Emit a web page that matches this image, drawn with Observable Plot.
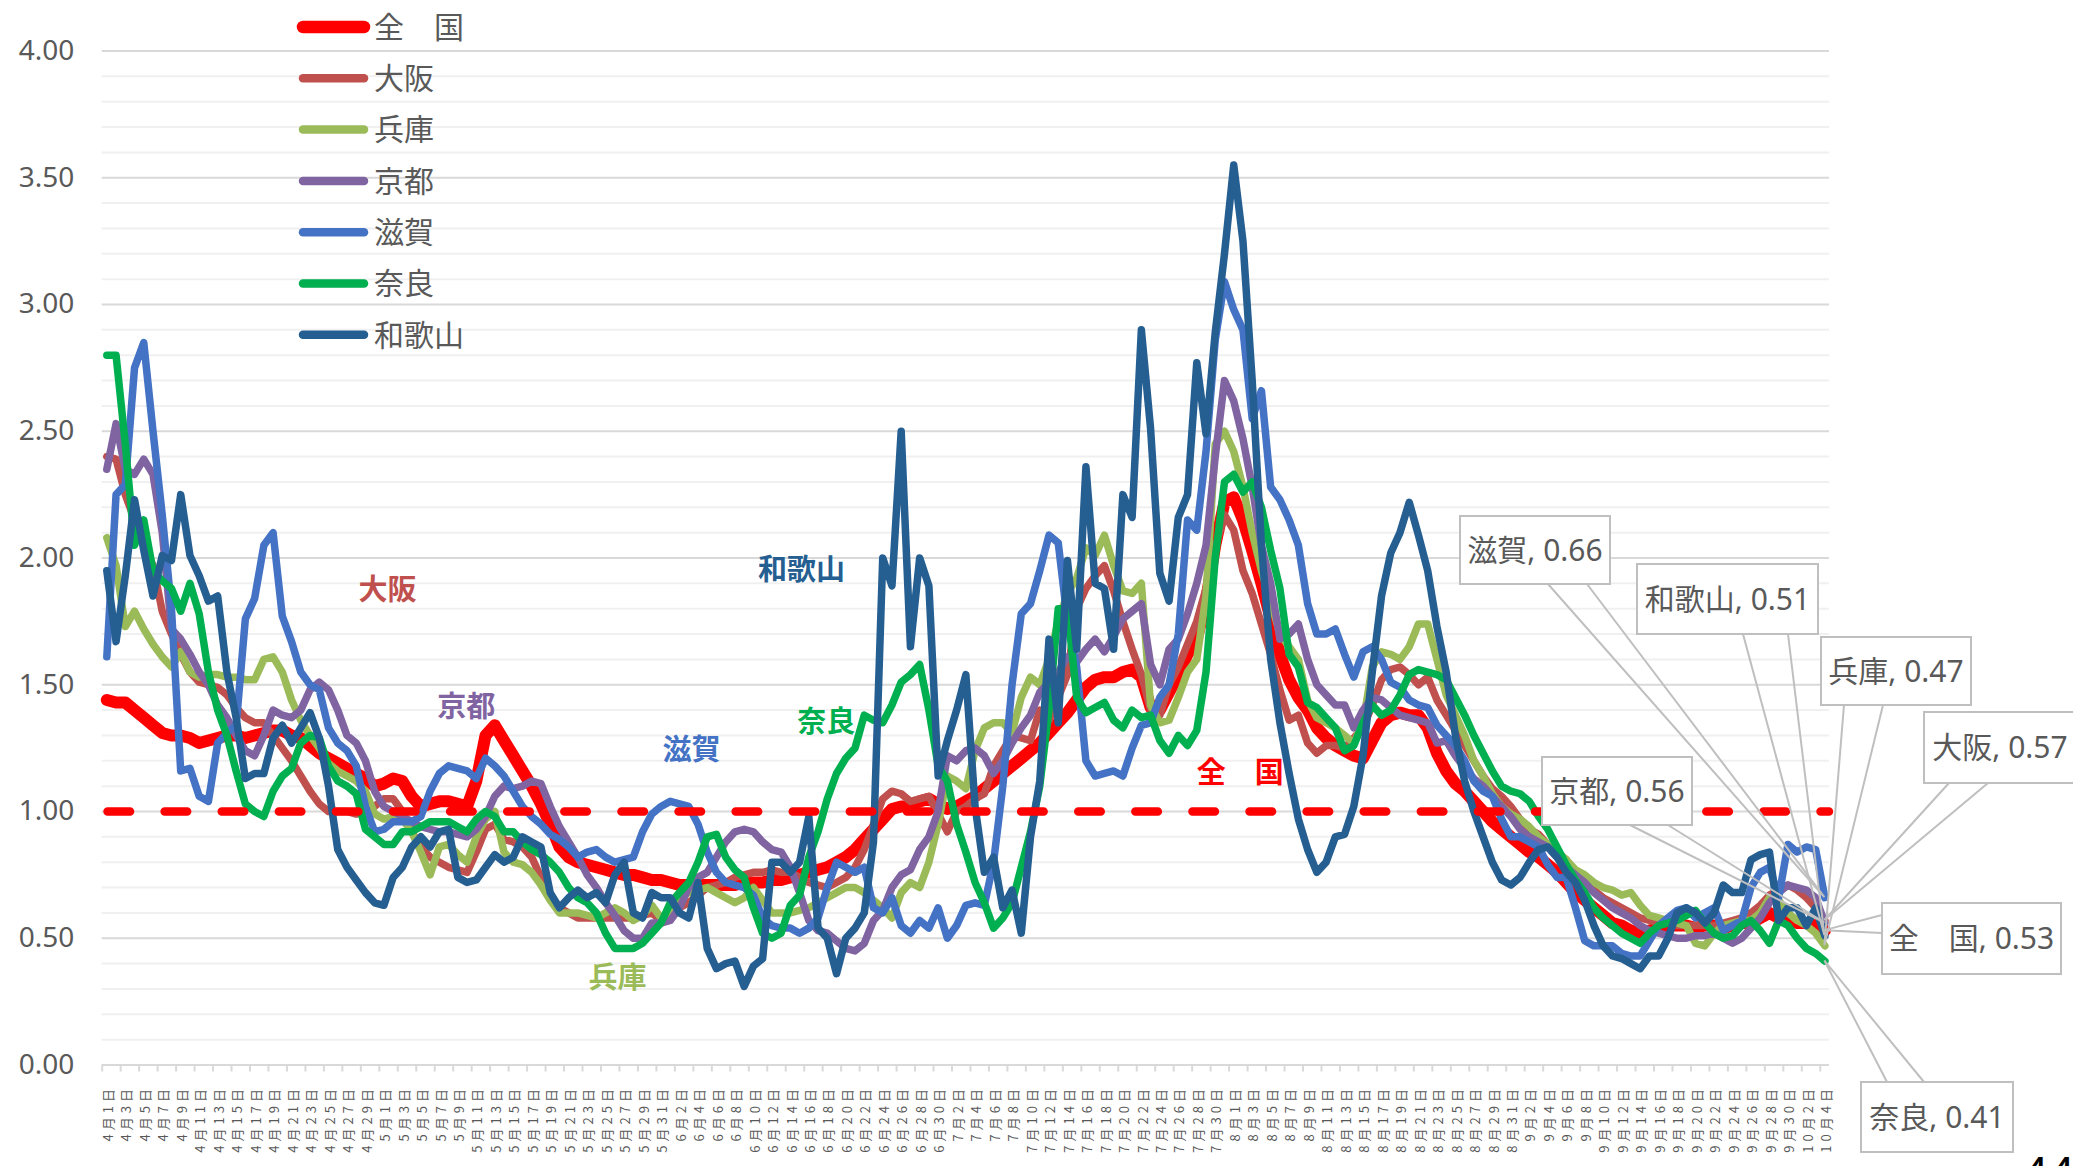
<!DOCTYPE html>
<html><head><meta charset="utf-8">
<script src="https://cdn.jsdelivr.net/npm/d3@7"></script>
<script src="https://cdn.jsdelivr.net/npm/@observablehq/plot@0.6"></script>
<style>
html,body{margin:0;padding:0;background:#fff;}
#chart{position:relative;width:2073px;height:1166px;overflow:hidden;}
</style></head><body><div id="chart"></div>
<script>
// ---- categories (daily, 4/1 .. 10/4) ----
const startDate = new Date(2021, 3, 1);
const dayCount = 187;
const dayLabels = d3.range(dayCount).map(i => {
  const t = d3.timeDay.offset(startDate, i);
  return `${t.getMonth() + 1}月${t.getDate()}日`;
});
const labelDays = d3.range(0, dayCount, 2);
const yTicks = [0, 0.5, 1, 1.5, 2, 2.5, 3, 3.5, 4];
const yMinorTicks = [0.1,0.2,0.3,0.4,0.6,0.7,0.8,0.9,1.1,1.2,1.3,1.4,1.6,1.7,1.8,1.9,2.1,2.2,2.3,2.4,2.6,2.7,2.8,2.9,3.1,3.2,3.3,3.4,3.6,3.7,3.8,3.9];
const refValue = 1.0;
const pageNumber = "44";

// ---- series values ----
const zenkoku = [1.44,1.43,1.43,1.40,1.37,1.34,1.31,1.30,1.30,1.29,
 1.27,1.28,1.29,1.30,1.30,1.29,1.30,1.31,1.32,1.32,
 1.30,1.29,1.26,1.23,1.21,1.19,1.17,1.15,1.13,1.10,
 1.11,1.13,1.12,1.06,1.02,1.03,1.04,1.04,1.03,1.02,
 1.12,1.30,1.34,1.28,1.22,1.16,1.10,1.03,0.95,0.86,
 0.82,0.80,0.79,0.78,0.77,0.76,0.75,0.75,0.74,0.73,
 0.73,0.72,0.71,0.71,0.71,0.71,0.71,0.71,0.71,0.72,
 0.72,0.72,0.73,0.73,0.74,0.75,0.76,0.77,0.78,0.80,
 0.82,0.85,0.89,0.93,0.97,1.01,1.02,1.02,1.04,1.05,
 1.03,1.01,1.02,1.04,1.06,1.09,1.12,1.15,1.18,1.21,
 1.24,1.27,1.31,1.35,1.39,1.44,1.49,1.52,1.53,1.53,
 1.55,1.56,1.53,1.41,1.40,1.47,1.54,1.62,1.68,1.83,
 2.05,2.22,2.24,2.15,2.03,1.90,1.76,1.62,1.52,1.45,
 1.40,1.33,1.29,1.26,1.24,1.22,1.21,1.28,1.35,1.38,
 1.39,1.38,1.38,1.33,1.23,1.16,1.11,1.08,1.04,1.00,
 0.96,0.93,0.90,0.87,0.84,0.82,0.79,0.76,0.72,0.68,
 0.65,0.62,0.59,0.56,0.55,0.53,0.52,0.53,0.54,0.55,
 0.55,0.55,0.54,0.55,0.55,0.54,0.55,0.56,0.56,0.58,
 0.60,0.58,0.57,0.56,0.56,0.55,0.53];
const osaka = [2.40,2.39,2.25,2.15,2.05,1.97,1.79,1.70,1.62,1.55,
 1.51,1.50,1.49,1.46,1.41,1.37,1.35,1.35,1.30,1.25,
 1.20,1.14,1.08,1.03,1.00,1.00,1.00,0.99,1.00,1.02,
 1.05,1.05,1.00,0.92,0.86,0.82,0.80,0.78,0.77,0.76,
 0.84,0.93,0.95,0.89,0.88,0.86,0.82,0.74,0.66,0.62,
 0.60,0.58,0.58,0.58,0.58,0.58,0.58,0.58,0.59,0.60,
 0.57,0.58,0.62,0.64,0.67,0.70,0.71,0.72,0.74,0.75,
 0.76,0.76,0.77,0.76,0.76,0.74,0.72,0.71,0.70,0.72,
 0.74,0.78,0.85,0.95,1.05,1.08,1.07,1.04,1.05,1.06,
 0.99,0.92,1.00,1.02,1.05,1.07,1.18,1.24,1.30,1.29,
 1.28,1.40,1.36,1.45,1.54,1.80,1.88,1.93,1.97,1.87,
 1.75,1.64,1.54,1.40,1.38,1.50,1.57,1.66,1.75,1.88,
 2.04,2.17,2.11,1.95,1.86,1.74,1.62,1.48,1.36,1.38,
 1.27,1.23,1.26,1.26,1.25,1.29,1.33,1.42,1.52,1.56,
 1.57,1.54,1.50,1.53,1.44,1.38,1.32,1.26,1.20,1.14,
 1.09,1.06,1.02,0.97,0.93,0.91,0.87,0.84,0.81,0.76,
 0.72,0.69,0.66,0.64,0.62,0.60,0.58,0.57,0.56,0.56,
 0.55,0.55,0.55,0.55,0.55,0.56,0.57,0.58,0.60,0.63,
 0.67,0.69,0.71,0.69,0.66,0.62,0.57];
const hyogo = [2.08,1.97,1.73,1.79,1.72,1.66,1.61,1.57,1.63,1.55,
 1.53,1.54,1.54,1.53,1.53,1.52,1.52,1.60,1.61,1.55,
 1.44,1.36,1.30,1.25,1.19,1.16,1.14,1.12,1.08,0.99,
 0.97,0.98,0.97,0.92,0.84,0.75,0.86,0.87,0.83,0.80,
 0.90,0.97,1.00,0.84,0.80,0.79,0.76,0.71,0.65,0.60,
 0.60,0.60,0.59,0.58,0.60,0.62,0.60,0.57,0.59,0.63,
 0.58,0.60,0.66,0.68,0.69,0.70,0.68,0.66,0.64,0.66,
 0.70,0.65,0.60,0.60,0.60,0.61,0.62,0.64,0.66,0.68,
 0.70,0.70,0.68,0.65,0.62,0.58,0.68,0.72,0.70,0.80,
 0.95,1.14,1.12,1.09,1.24,1.33,1.35,1.35,1.31,1.45,
 1.53,1.50,1.60,1.75,1.86,1.92,2.04,2.01,2.09,1.97,
 1.87,1.86,1.90,1.42,1.35,1.36,1.45,1.55,1.60,1.85,
 2.45,2.50,2.42,2.28,2.10,1.95,1.83,1.70,1.65,1.60,
 1.44,1.37,1.35,1.33,1.30,1.27,1.35,1.57,1.63,1.62,
 1.60,1.65,1.74,1.74,1.60,1.46,1.38,1.30,1.20,1.14,
 1.07,1.02,0.99,0.97,0.94,0.90,0.87,0.84,0.81,0.77,
 0.75,0.72,0.70,0.69,0.67,0.68,0.63,0.59,0.58,0.57,
 0.56,0.55,0.48,0.47,0.52,0.55,0.56,0.57,0.57,0.60,
 0.66,0.65,0.60,0.57,0.55,0.52,0.47];
const kyoto = [2.35,2.53,2.35,2.33,2.39,2.33,2.10,1.72,1.68,1.62,
 1.55,1.50,1.42,1.37,1.30,1.24,1.22,1.30,1.40,1.38,
 1.37,1.40,1.48,1.51,1.48,1.40,1.30,1.27,1.20,1.08,
 1.02,1.00,0.98,0.96,0.94,0.93,0.92,0.92,0.91,0.90,
 0.93,0.98,1.06,1.10,1.09,1.10,1.12,1.11,1.02,0.94,
 0.88,0.82,0.75,0.70,0.64,0.59,0.53,0.50,0.50,0.56,
 0.56,0.57,0.62,0.70,0.74,0.76,0.82,0.88,0.92,0.93,
 0.92,0.88,0.85,0.84,0.78,0.68,0.57,0.53,0.52,0.49,
 0.46,0.45,0.48,0.57,0.61,0.70,0.75,0.77,0.85,0.90,
 1.00,1.22,1.20,1.24,1.25,1.22,1.15,1.20,1.27,1.33,
 1.38,1.47,1.51,1.55,1.61,1.59,1.64,1.68,1.63,1.69,
 1.76,1.79,1.82,1.58,1.50,1.64,1.68,1.78,1.90,2.05,
 2.40,2.70,2.62,2.47,2.28,2.05,1.90,1.68,1.70,1.74,
 1.60,1.50,1.46,1.42,1.42,1.33,1.40,1.45,1.44,1.41,
 1.38,1.37,1.36,1.35,1.27,1.28,1.22,1.17,1.13,1.10,
 1.06,1.02,0.98,0.93,0.90,0.88,0.86,0.82,0.78,0.75,
 0.72,0.68,0.65,0.62,0.60,0.58,0.55,0.53,0.52,0.51,
 0.50,0.50,0.51,0.51,0.52,0.50,0.48,0.50,0.54,0.58,
 0.64,0.68,0.71,0.70,0.69,0.66,0.56];
const shiga = [1.61,2.25,2.29,2.75,2.85,2.50,2.17,1.80,1.16,1.17,
 1.06,1.04,1.27,1.31,1.34,1.76,1.84,2.05,2.10,1.77,
 1.67,1.55,1.50,1.48,1.33,1.27,1.24,1.18,1.02,0.92,
 0.93,0.96,0.96,0.96,0.98,1.08,1.15,1.18,1.17,1.16,
 1.13,1.21,1.18,1.14,1.08,1.02,0.98,0.95,0.91,0.89,
 0.86,0.82,0.84,0.85,0.82,0.80,0.81,0.82,0.92,0.99,
 1.02,1.04,1.03,1.02,0.95,0.84,0.76,0.72,0.71,0.70,
 0.67,0.58,0.55,0.54,0.54,0.52,0.54,0.58,0.70,0.80,
 0.78,0.76,0.78,0.62,0.60,0.66,0.55,0.52,0.57,0.54,
 0.62,0.50,0.55,0.63,0.64,0.63,0.80,1.10,1.50,1.78,
 1.82,1.95,2.09,2.06,1.75,1.57,1.20,1.14,1.15,1.16,
 1.14,1.25,1.34,1.35,1.45,1.50,1.70,2.15,2.11,2.42,
 2.86,3.09,2.98,2.90,2.55,2.66,2.28,2.23,2.15,2.05,
 1.82,1.70,1.70,1.72,1.62,1.53,1.63,1.65,1.60,1.51,
 1.49,1.44,1.42,1.41,1.34,1.30,1.26,1.20,1.12,1.08,
 1.06,0.97,0.90,0.90,0.88,0.86,0.79,0.74,0.74,0.62,
 0.49,0.47,0.47,0.47,0.44,0.43,0.43,0.49,0.55,0.58,
 0.61,0.62,0.58,0.60,0.62,0.53,0.55,0.57,0.70,0.76,
 0.78,0.66,0.87,0.84,0.86,0.85,0.66];
const nara = [2.80,2.80,2.45,2.05,2.15,1.95,1.91,1.88,1.79,1.90,
 1.78,1.55,1.40,1.30,1.16,1.03,1.00,0.98,1.08,1.14,
 1.17,1.27,1.30,1.29,1.18,1.12,1.10,1.07,0.93,0.90,
 0.87,0.87,0.92,0.92,0.94,0.96,0.96,0.96,0.94,0.92,
 0.97,1.00,0.98,0.92,0.92,0.88,0.85,0.83,0.80,0.76,
 0.70,0.66,0.64,0.60,0.52,0.46,0.46,0.46,0.48,0.52,
 0.56,0.64,0.68,0.72,0.80,0.90,0.91,0.82,0.77,0.74,
 0.62,0.52,0.50,0.52,0.63,0.67,0.82,0.92,1.05,1.15,
 1.21,1.25,1.38,1.36,1.35,1.42,1.51,1.54,1.58,1.40,
 1.18,1.12,0.95,0.84,0.72,0.64,0.54,0.58,0.64,0.78,
 0.92,1.10,1.40,1.80,1.80,1.45,1.39,1.41,1.43,1.36,
 1.33,1.40,1.37,1.38,1.28,1.23,1.30,1.26,1.32,1.55,
 2.00,2.30,2.33,2.26,2.30,2.20,2.03,1.88,1.62,1.57,
 1.43,1.41,1.37,1.33,1.24,1.26,1.35,1.42,1.38,1.40,
 1.46,1.54,1.56,1.55,1.54,1.52,1.45,1.38,1.30,1.23,
 1.16,1.10,1.08,1.07,1.04,0.98,0.93,0.86,0.79,0.73,
 0.68,0.62,0.58,0.55,0.52,0.50,0.48,0.52,0.55,0.56,
 0.57,0.59,0.61,0.56,0.52,0.50,0.51,0.55,0.57,0.53,
 0.48,0.57,0.55,0.50,0.46,0.44,0.41];
const wakayama = [1.95,1.67,1.93,2.23,2.03,1.85,2.01,1.99,2.25,2.01,
 1.93,1.83,1.85,1.55,1.37,1.13,1.15,1.15,1.29,1.34,
 1.27,1.33,1.39,1.29,1.10,0.85,0.78,0.73,0.68,0.64,
 0.63,0.74,0.78,0.86,0.90,0.86,0.92,0.93,0.74,0.72,
 0.73,0.78,0.83,0.80,0.82,0.90,0.88,0.86,0.68,0.62,
 0.66,0.69,0.66,0.68,0.64,0.75,0.80,0.60,0.58,0.68,
 0.66,0.66,0.60,0.58,0.72,0.46,0.38,0.40,0.41,0.31,
 0.39,0.42,0.80,0.80,0.76,0.80,0.98,0.54,0.50,0.36,
 0.50,0.54,0.60,0.88,2.00,1.89,2.50,1.65,2.00,1.89,
 1.14,1.28,1.40,1.54,1.02,0.76,0.82,0.62,0.69,0.52,
 0.90,1.12,1.68,1.35,1.99,1.64,2.36,1.90,1.88,1.64,
 2.25,2.16,2.90,2.51,1.94,1.83,2.16,2.25,2.77,2.49,
 2.89,3.20,3.55,3.25,2.70,2.05,1.60,1.35,1.15,0.97,
 0.85,0.76,0.80,0.90,0.91,1.02,1.22,1.55,1.85,2.02,
 2.10,2.22,2.09,1.95,1.73,1.55,1.30,1.12,1.00,0.90,
 0.80,0.73,0.71,0.74,0.80,0.85,0.86,0.82,0.76,0.72,
 0.65,0.55,0.47,0.43,0.42,0.40,0.38,0.43,0.43,0.50,
 0.60,0.62,0.60,0.56,0.60,0.71,0.68,0.68,0.81,0.83,
 0.84,0.57,0.62,0.62,0.55,0.62,0.51];

const seriesNames = ["全　国", "大阪", "兵庫", "京都", "滋賀", "奈良", "和歌山"];
const seriesValues = [zenkoku, osaka, hyogo, kyoto, shiga, nara, wakayama];
const seriesColors = ["#FF0000", "#C0504D", "#9BBB59", "#8064A2", "#4472C4", "#00B050", "#255E91"];

// in-plot series labels (day index, value)
const annotNames = ["大阪", "京都", "滋賀", "和歌山", "奈良", "兵庫", "全　国"];
const annotDays = [30.4, 38.9, 63.3, 75.2, 77.9, 55.3, 122.7];
const annotValues = [1.87, 1.41, 1.24, 1.95, 1.35, 0.34, 1.15];

// end-of-line callouts, box layout in px
const calloutBoxes = {
  "滋賀":   {x: 1460, y: 516, w: 150, h: 68, a: [1548, 584], b: [1587, 584]},
  "和歌山": {x: 1637, y: 564, w: 181, h: 70, a: [1743, 634], b: [1788, 634]},
  "兵庫":   {x: 1821, y: 637, w: 150, h: 68, a: [1844, 705], b: [1883, 705]},
  "大阪":   {x: 1924, y: 712, w: 152, h: 71, a: [1949, 783], b: [1988, 783]},
  "京都":   {x: 1542, y: 757, w: 150, h: 68, a: [1630, 825], b: [1668, 825]},
  "全　国": {x: 1882, y: 903, w: 179, h: 71, a: [1882, 915], b: [1882, 933]},
  "奈良":   {x: 1861, y: 1082, w: 152, h: 70, a: [1887, 1082], b: [1924, 1082]}
};

const W = 2073, H = 1166;
const mL = 101.7, mR = W - 1829, mT = 50.5, mB = H - 1064.5;
const gray = "#595959";
const font = "'Noto Sans','Noto Sans CJK JP',sans-serif";
const cjk = "'Noto Sans CJK JP',sans-serif";

const lineMarks = seriesValues.map((vals, i) =>
  Plot.line(vals.map((v, d) => ({d, v})), {
    x: "d", y: "v", stroke: seriesColors[i],
    strokeWidth: i === 0 ? 12 : 7.5,
    strokeLinejoin: "round", strokeLinecap: "round"
  })
);
const annots = annotNames.map((n, i) => ({n, d: annotDays[i], v: annotValues[i],
  c: seriesColors[seriesNames.indexOf(n)]}));

const chart = Plot.plot({
  width: W, height: H,
  marginLeft: mL, marginRight: mR, marginTop: mT, marginBottom: mB,
  style: {fontFamily: font, color: gray, background: "#fff", overflow: "visible"},
  x: {type: "linear", domain: [-0.5, dayCount - 0.5], label: null},
  y: {domain: [0, 4], label: null},
  marks: [
    Plot.ruleY(yMinorTicks, {stroke: "#F0F0F0", strokeWidth: 2}),
    Plot.ruleY(yTicks, {stroke: "#D9D9D9", strokeWidth: 2}),
    Plot.axisY({ticks: yTicks, tickFormat: d3.format(".2f"), tickSize: 0, tickPadding: 28,
      fontSize: 28, fill: gray, label: null}),
    Plot.axisX({ticks: d3.range(-0.5, dayCount, 2), tickFormat: () => "", tickSize: 7,
      stroke: "#D9D9D9", strokeWidth: 2, label: null}),
    Plot.axisX({ticks: labelDays, tickFormat: d => dayLabels[d], tickRotate: -90,
      tickSize: 0, tickPadding: 20, fontSize: 13, fill: gray, dx: 2,
      fontFamily: cjk, label: null}),
    ...lineMarks,
    Plot.ruleY([refValue], {stroke: "#FF0000", strokeWidth: 8.5,
      strokeDasharray: "22.5,34.6", strokeDashoffset: -5.85, strokeLinecap: "round"}),
    Plot.text(annots, {x: "d", y: "v", text: "n", fill: "c", fontSize: 29, fontWeight: "bold",
      fontFamily: cjk})
  ]
});
document.getElementById("chart").appendChild(chart);

const svg = d3.select(chart);
// widen the rotated date labels like the reference
svg.selectAll("g[aria-label='x-axis tick label'] text").style("letter-spacing", "4px");

const xS = chart.scale("x"), yS = chart.scale("y");

// ---- legend ----
const leg = svg.append("g");
seriesNames.forEach((n, i) => {
  const cy = 27 + i * 51.3;
  leg.append("line").attr("x1", 303).attr("x2", 364).attr("y1", cy).attr("y2", cy)
    .attr("stroke", seriesColors[i]).attr("stroke-width", i === 0 ? 12.5 : 8.5)
    .attr("stroke-linecap", "round");
  leg.append("text").attr("x", 374).attr("y", cy).attr("dy", "0.36em")
    .attr("text-anchor", "start")
    .attr("fill", gray).attr("font-size", 30)
    .attr("font-family", cjk).text(n);
});

// ---- end callouts ----
const co = svg.append("g");
seriesNames.forEach((n, i) => {
  const b = calloutBoxes[n];
  const vals = seriesValues[i];
  const last = vals[vals.length - 1];
  const px = xS.apply(vals.length - 1), py = yS.apply(last);
  co.append("polyline")
    .attr("points", `${b.a[0]},${b.a[1]} ${px},${py} ${b.b[0]},${b.b[1]}`)
    .attr("fill", "none").attr("stroke", "#BFBFBF").attr("stroke-width", 2);
});
seriesNames.forEach((n, i) => {
  const b = calloutBoxes[n];
  const vals = seriesValues[i];
  const last = vals[vals.length - 1];
  co.append("rect").attr("x", b.x).attr("y", b.y).attr("width", b.w).attr("height", b.h)
    .attr("fill", "#fff").attr("stroke", "#BFBFBF").attr("stroke-width", 2);
  co.append("text").attr("x", b.x + b.w / 2).attr("y", b.y + b.h / 2).attr("dy", "0.36em")
    .attr("text-anchor", "middle").attr("fill", gray).attr("font-size", 30)
    .attr("font-family", font).text(`${n}, ${last.toFixed(2)}`);
});

// page number, mostly below the visible edge as in the reference
svg.append("text").attr("x", 2022).attr("y", 1190).attr("text-anchor", "start")
  .attr("fill", "#000").attr("font-size", 46).attr("font-family", font).text(pageNumber);
</script></body></html>
